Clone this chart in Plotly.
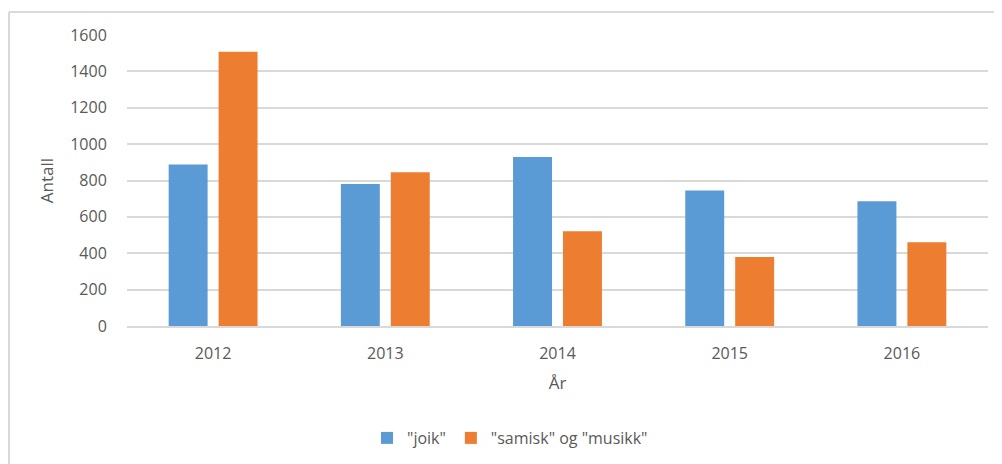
import plotly.graph_objects as go

years = ["2012", "2013", "2014", "2015", "2016"]
joik = [888, 781, 929, 745, 686]
samisk_musikk = [1508, 846, 521, 380, 460]
series_names = ['"joik"', '"samisk" og "musikk"']
y_ticks = [0, 200, 400, 600, 800, 1000, 1200, 1400, 1600]

FONT = "Open Sans"
GREY = "#595959"

fig = go.Figure()
fig.add_bar(x=years, y=joik, name=series_names[0], marker=dict(color="#5B9BD5", line=dict(width=0)))
fig.add_bar(x=years, y=samisk_musikk, name=series_names[1], marker=dict(color="#ED7D31", line=dict(width=0)))

# page has an 8px body margin; figure coordinates are page coordinates minus 8
OFF = 8
W, H = 994, 456
L, R, T, B = 127 - OFF, W - (988 - OFF), 35 - OFF, H - (326 - OFF)
pw = W - L - R
ph = H - T - B

def px_x(p):
    return (p - OFF - L) / pw

def px_y(p):
    return (H - B - (p - OFF)) / ph

fig.update_layout(
    width=W, height=H,
    margin=dict(l=L, r=R, t=T, b=B, pad=0, autoexpand=False),
    paper_bgcolor="white", plot_bgcolor="white",
    barmode="group", bargap=0.42, bargroupgap=0.22,
    font=dict(family=FONT, size=16, color=GREY),
    showlegend=True,
    legend=dict(orientation="h", x=px_x(510), y=px_y(438), xanchor="center", yanchor="middle",
                font=dict(family=FONT, size=16, color=GREY), itemwidth=30, traceorder="normal"),
    xaxis=dict(
        title=dict(text="År", font=dict(family=FONT, size=17, color=GREY), standoff=14),
        showgrid=False, showline=True, linecolor="#d9d9d9", linewidth=1.5,
        ticks="outside", ticklen=12, tickcolor="rgba(0,0,0,0)",
        tickfont=dict(family=FONT, size=16, color=GREY),
    ),
    yaxis=dict(
        title=dict(text="Antall", font=dict(family=FONT, size=17, color=GREY), standoff=12),
        range=[0, 1600], tickvals=y_ticks, showgrid=True, gridcolor="#d9d9d9", gridwidth=1.5,
        zeroline=False, showline=False,
        ticks="outside", ticklen=16, tickcolor="rgba(0,0,0,0)",
        tickfont=dict(family=FONT, size=16, color=GREY),
    ),
    shapes=[
        dict(type="line", xref="paper", yref="paper", x0=px_x(9), x1=px_x(OFF + W), y0=px_y(12), y1=px_y(12),
             line=dict(color="#d9d9d9", width=2)),
        dict(type="line", xref="paper", yref="paper", x0=px_x(9), x1=px_x(9), y0=px_y(12), y1=px_y(OFF + H),
             line=dict(color="#d9d9d9", width=2)),
    ],
)

fig.write_html("out.html")
